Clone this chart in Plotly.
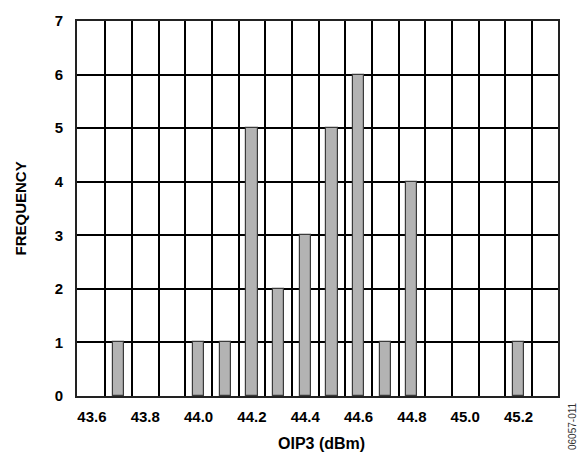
import plotly.graph_objects as go

oip3 = [43.7, 44.0, 44.1, 44.2, 44.3, 44.4, 44.5, 44.6, 44.7, 44.8, 45.2]
freq = [1, 1, 1, 5, 2, 3, 5, 6, 1, 4, 1]
x_ticks = [43.6, 43.8, 44.0, 44.2, 44.4, 44.6, 44.8, 45.0, 45.2]
x_tick_labels = ["43.6", "43.8", "44.0", "44.2", "44.4", "44.6", "44.8", "45.0", "45.2"]
bin_edges = [43.65, 43.75, 43.85, 43.95, 44.05, 44.15, 44.25, 44.35, 44.45,
             44.55, 44.65, 44.75, 44.85, 44.95, 45.05, 45.15, 45.25]
y_ticks = [0, 1, 2, 3, 4, 5, 6, 7]

font_family = "Liberation Sans, Arial, sans-serif"

fig = go.Figure()
fig.add_trace(go.Bar(
    x=oip3, y=freq, width=0.042,
    marker=dict(color="#b3b3b3", line=dict(color="#3a3a3a", width=1.2)),
))

fig.update_layout(
    width=587, height=456,
    margin=dict(l=77, r=29, t=12, b=60),
    paper_bgcolor="white", plot_bgcolor="white",
    showlegend=False,
    font=dict(family=font_family, color="black"),
    bargap=0,
)
fig.update_xaxes(
    range=[43.544, 45.348],
    tickmode="array", tickvals=x_ticks, ticktext=x_tick_labels,
    showgrid=False, zeroline=False,
    ticks="", ticklabelstandoff=6,
    tickfont=dict(size=15, weight="bold"),
    showline=True, linecolor="#222222", linewidth=2, mirror=True,
    minor=dict(tickmode="array", tickvals=bin_edges, showgrid=True,
               gridcolor="#000000", gridwidth=1.5, ticks=""),
)
fig.update_yaxes(
    range=[0, 7],
    tickmode="array", tickvals=y_ticks,
    showgrid=True, gridcolor="#000000", gridwidth=1.5, zeroline=False,
    ticks="", ticklabelstandoff=9,
    tickfont=dict(size=15, weight="bold"),
    showline=True, linecolor="#222222", linewidth=2, mirror=True,
)

fig.add_annotation(text="OIP3 (dBm)", xref="paper", yref="paper", x=0.5, y=0,
                   xshift=4, yshift=-47, yanchor="middle", xanchor="center",
                   showarrow=False, font=dict(size=16, weight="bold"))
fig.add_annotation(text="FREQUENCY", xref="paper", yref="paper", x=0, y=0.5,
                   xshift=-57, xanchor="center", yanchor="middle", textangle=-90,
                   showarrow=False, font=dict(size=15, weight="bold"))
fig.add_annotation(text="06057-011", xref="paper", yref="paper", x=1, y=0,
                   xshift=14, yshift=-30, xanchor="center", yanchor="middle",
                   textangle=-90, showarrow=False,
                   font=dict(size=10, color="#333333"))

fig.write_html("out.html")
